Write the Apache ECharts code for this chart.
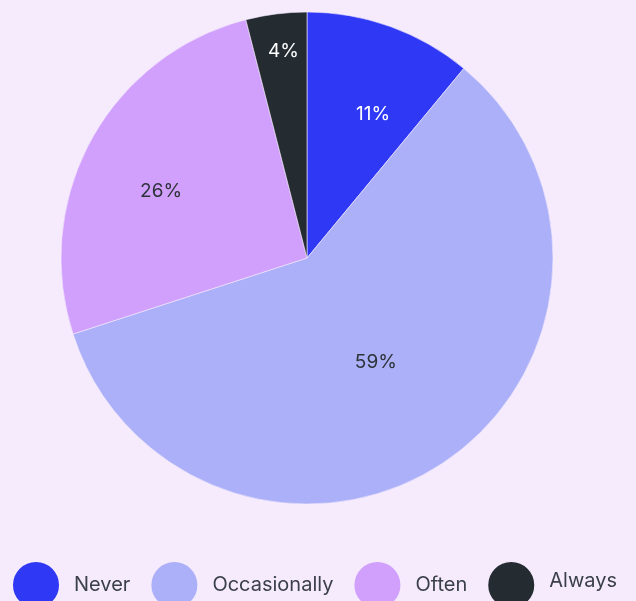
<!DOCTYPE html>
<html><head><meta charset="utf-8">
<script src="https://cdn.jsdelivr.net/npm/echarts@6/dist/echarts.min.js"></script>
<style>html,body{margin:0;padding:0;background:#f5ebfd;}#c{width:636px;height:601px;}</style>
</head><body><div id="c"></div>
<script>
const categories = ['Never', 'Occasionally', 'Often', 'Always'];
const values = [11, 59, 26, 4];
const colors = ['#2e38f5', '#abb0f8', '#d1a0fd', '#242b31'];
const labelColors = ['#ffffff', '#2d3338', '#2d3338', '#ffffff'];
const labelRadiusFactor = [0.65, 0.5, 0.66, 0.85];
const labelNudge = [[11, 10], [-2, 0], [-1, 13], [3, 4]];

const R = 246;
const total = values.reduce((a, b) => a + b, 0);
const midAngles = [];
let acc = 0;
values.forEach(v => { midAngles.push(90 - (acc + v / 2) / total * 360); acc += v; });

const chart = echarts.init(document.getElementById('c'));
chart.setOption({
  backgroundColor: '#f5ebfd',
  animation: false,
  legend: {
    left: 6, top: 555,
    itemWidth: 48, itemHeight: 48, itemGap: 19,
    icon: 'circle',
    textStyle: { fontFamily: 'Inter', fontSize: 20, fontWeight: 400, color: '#3a3f48', padding: [0, 0, 0, 9],
      rich: { up: { fontFamily: 'Inter', fontSize: 20, fontWeight: 400, color: '#3a3f48', padding: [0, 0, 9, 0] } } },
    formatter: function (n) { return n === 'Always' ? '{up|' + n + '}' : n; },
    data: categories
  },
  series: [{
    type: 'pie',
    center: [307, 258],
    radius: [0, R],
    startAngle: 90,
    clockwise: true,
    avoidLabelOverlap: false,
    itemStyle: { borderColor: '#f5ebfd', borderWidth: 0.6 },
    label: {
      position: 'inside',
      formatter: '{d}%',
      fontFamily: 'Inter', fontSize: 19, fontWeight: 400
    },
    labelLine: { show: false },
    labelLayout: function (p) {
      const i = p.dataIndex;
      const a = midAngles[i] * Math.PI / 180;
      const extra = (labelRadiusFactor[i] - 0.5) * R;
      return { dx: extra * Math.cos(a) + labelNudge[i][0], dy: -extra * Math.sin(a) + labelNudge[i][1] };
    },
    data: categories.map((c, i) => ({
      name: c, value: values[i],
      itemStyle: { color: colors[i] },
      label: { color: labelColors[i] }
    }))
  }]
});
</script></body></html>
